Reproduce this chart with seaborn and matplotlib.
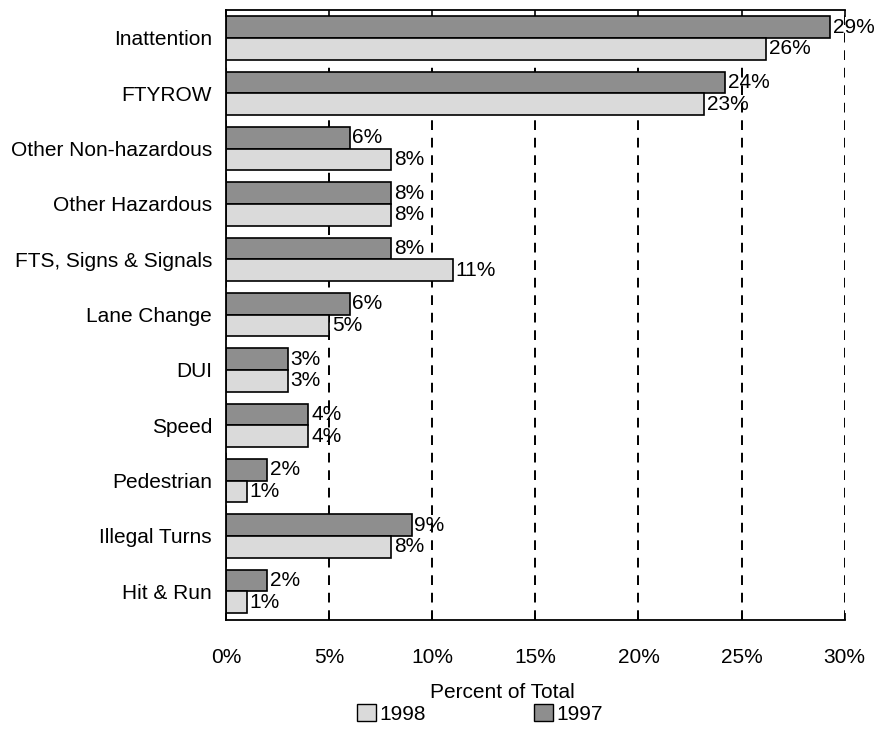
import pandas as pd
import seaborn as sns
import matplotlib.pyplot as plt
from matplotlib.patches import Patch

# values (percent of total)
causes = ['Inattention', 'FTYROW', 'Other Non-hazardous', 'Other Hazardous',
          'FTS, Signs & Signals', 'Lane Change', 'DUI', 'Speed', 'Pedestrian',
          'Illegal Turns', 'Hit & Run']
pct_1997 = [29.3, 24.2, 6, 8, 8, 6, 3, 4, 2, 9, 2]
pct_1998 = [26.2, 23.2, 8, 8, 11, 5, 3, 4, 1, 8, 1]
years = ['1997', '1998']
colors = {'1997': '#8e8e8e', '1998': '#dadada'}

df = pd.DataFrame({
    'Cause': causes * 2,
    'Year': ['1997'] * len(causes) + ['1998'] * len(causes),
    'Percent': pct_1997 + pct_1998,
})

sns.set_style('white')
plt.rcParams['font.family'] = ['Liberation Sans', 'DejaVu Sans']
plt.rcParams['text.color'] = 'black'
plt.rcParams['xtick.color'] = 'black'
plt.rcParams['ytick.color'] = 'black'
fs = 15

fig = plt.figure(figsize=(8.79, 7.33), dpi=100)
ax = fig.add_axes([0.257, 0.154, 0.704, 0.832])

sns.barplot(data=df, x='Percent', y='Cause', hue='Year', hue_order=years,
            palette=colors, edgecolor='black', linewidth=1.2, width=0.78,
            orient='h', ax=ax, legend=False)

# percent labels at the bar ends
for cont, vals in zip(ax.containers, [pct_1997, pct_1998]):
    ax.bar_label(cont, labels=[f'{round(v)}%' for v in vals], padding=2,
                 fontsize=fs, color='black')

ax.set_xlim(0, 30)
ax.set_ylim(len(causes) - 0.48, -0.5)
ax.set_xticks(range(0, 31, 5))
ax.set_xticklabels([f'{t}%' for t in range(0, 31, 5)])
ax.set_xlabel('')
ax.set_ylabel('')

ax.set_axisbelow(True)
ax.xaxis.grid(True, color='black', linestyle=(0, (5, 4)), linewidth=1.4)
ax.yaxis.grid(False)

for side in ['left', 'top', 'bottom']:
    ax.spines[side].set_color('black')
    ax.spines[side].set_linewidth(1.3)
ax.spines['right'].set_visible(False)

ax.tick_params(axis='x', direction='in', top=True, bottom=True, length=5,
               width=1.2, color='black', labelsize=fs, labelcolor='black', pad=20)
ax.tick_params(axis='y', length=0, labelsize=fs, labelcolor='black', pad=10)

fig.text(502 / 879, 1 - 692 / 733, 'Percent of Total', ha='center', va='center',
         fontsize=fs, color='black')

handles = [Patch(facecolor=colors['1998'], edgecolor='black', label='1998'),
           Patch(facecolor=colors['1997'], edgecolor='black', label='1997')]
fig.legend(handles=handles, loc='center', bbox_to_anchor=(480 / 879, 1 - 714 / 733),
           ncol=2, frameon=False, fontsize=fs, handlelength=0.9,
           handleheight=0.9, handletextpad=0.15, columnspacing=5.2,
           borderpad=0, labelcolor='black')

fig.savefig('out.png', dpi=100, facecolor='white')
